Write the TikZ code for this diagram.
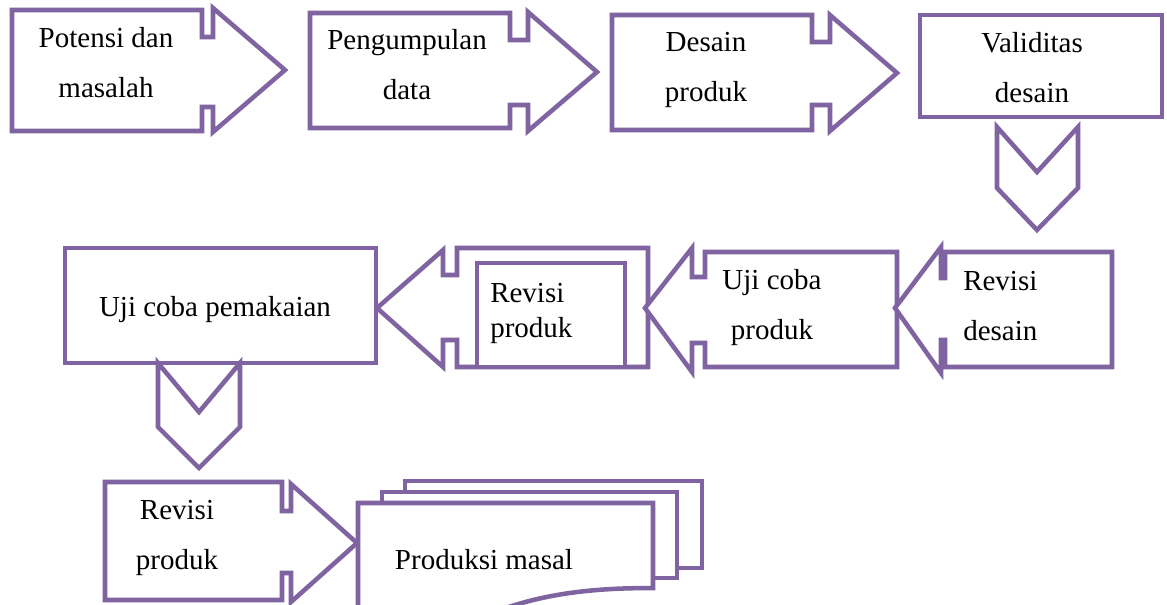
\documentclass[tikz,border=0pt]{standalone}
\usepackage{fontspec}
\setmainfont{Liberation Serif}
\usepackage{xcolor}
\definecolor{boxpurple}{RGB}{128,100,162}

\begin{document}
\begin{tikzpicture}[x=0.75pt, y=-0.75pt, line join=miter]
    \tikzset{
        shapeline/.style={draw=boxpurple, fill=white, line width=3.4pt},
        boxtext/.style={font=\fontsize{21.75}{37.5}\selectfont, align=center, inner sep=0pt},
        tighttext/.style={font=\fontsize{21.75}{26.25}\selectfont, align=left, inner sep=0pt}
    }
    \useasboundingbox (0,0) rectangle (1167,604);
    \clip (0,0) rectangle (1167,604);

    \path[shapeline] (12,10) -- (202,10) -- (202,37) -- (213,37) -- (213,8) -- (285,70) -- (213,132) -- (213,107) -- (202,107) -- (202,131) -- (12,131) -- cycle;
    \node[boxtext] (Potensi) at (106,63) {Potensi dan\\masalah};

    \path[shapeline] (310,13) -- (510,13) -- (510,40) -- (528,40) -- (528,12) -- (597,72) -- (528,131) -- (528,105) -- (510,105) -- (510,128) -- (310,128) -- cycle;
    \node[boxtext] (Kumpul) at (407,65) {Pengumpulan\\data};

    \path[shapeline] (612,15) -- (812,15) -- (812,42) -- (830,42) -- (830,15) -- (897,73) -- (830,131) -- (830,105) -- (812,105) -- (812,130) -- (612,130) -- cycle;
    \node[boxtext] (Desain) at (706,70) {Desain\\produk};

    \path[shapeline] (920,15) rectangle (1162,117);
    \node[boxtext] (Valid) at (1032,68) {Validitas\\desain};

    \path[shapeline] (997,127) -- (1037,172) -- (1078,127) -- (1078,188) -- (1037,230) -- (997,188) -- cycle;

    \path[shapeline] (65,248) rectangle (376,363);
    \node[boxtext] (Pemakaian) at (215,310) {Uji coba pemakaian};

    \path[shapeline] (648,248) -- (648,367) -- (457,367) -- (457,340) -- (443,340) -- (443,367) -- (377,308) -- (443,250) -- (443,275) -- (457,275) -- (457,248) -- cycle;
    \path[shapeline] (477,263) rectangle (625,367);
    \node[tighttext, anchor=west] (RevProdA) at (490,313) {Revisi\\produk};

    \path[shapeline] (897,252) -- (897,367) -- (705,367) -- (705,343) -- (692,343) -- (692,372) -- (645,308) -- (692,248) -- (692,277) -- (705,277) -- (705,252) -- cycle;
    \node[boxtext] (UjiProduk) at (772,308) {Uji coba\\produk};

    \path[shapeline] (1112,252) -- (1112,367) -- (945,367) -- (945,340) -- (941,340) -- (941,373) -- (895,308) -- (941,247) -- (941,278) -- (945,278) -- (945,252) -- cycle;
    \node[boxtext, align=left, anchor=west] (RevDesain) at (963,306) {Revisi\\desain};

    \path[shapeline] (158,363) -- (199,412) -- (240,363) -- (240,427) -- (199,468) -- (158,427) -- cycle;

    \path[shapeline] (105,482) -- (282,482) -- (282,511) -- (291,511) -- (291,484) -- (357,543) -- (291,602) -- (291,573) -- (282,573) -- (282,600) -- (105,600) -- cycle;
    \node[boxtext] (RevProdB) at (177,538) {Revisi\\produk};

    \path[shapeline] (405,481) rectangle (702,568);
    \path[shapeline] (382,492) rectangle (677,578);
    \path[shapeline] (358,620) -- (358,503) -- (653,503) -- (653,588) .. controls (600,588) and (550,592) .. (500,610) -- cycle;
    \node[boxtext] (Masal) at (484,560) {Produksi masal};
\end{tikzpicture}
\end{document}
